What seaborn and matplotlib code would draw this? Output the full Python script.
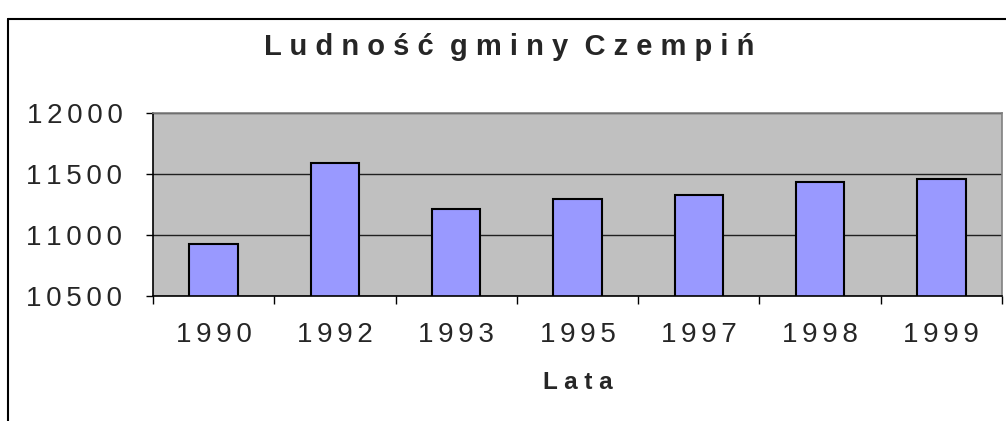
import matplotlib
matplotlib.use("Agg")
import matplotlib.pyplot as plt
import seaborn as sns
import pandas as pd
from matplotlib.lines import Line2D

# data
years = ["1990", "1992", "1993", "1995", "1997", "1998", "1999"]
population = [10923, 11592, 11217, 11298, 11331, 11435, 11457]
y_ticks = [10500, 11000, 11500, 12000]

title = "Ludność gminy Czempiń"
xlabel = "Lata"


def spaced(s, gap=" "):
    # imitate the wide letter spacing of the original
    return (gap + gap).join(gap.join(w) for w in s.split(" "))


df = pd.DataFrame({"rok": years, "ludnosc": population})

sns.set_style("white")
plt.rcParams["font.family"] = ["Liberation Sans", "DejaVu Sans"]

fig = plt.figure(figsize=(10.06, 4.21), dpi=100)
ax = fig.add_axes([153 / 1006, 1 - 296 / 421, (1002 - 153) / 1006, (296 - 113) / 421])

sns.barplot(data=df, x="rok", y="ludnosc", order=years, color="#9999FF",
            saturation=1, width=0.4, edgecolor="black", linewidth=1.5, ax=ax)

ax.set_facecolor("#C0C0C0")
ax.set_ylim(y_ticks[0], y_ticks[-1])
ax.set_xlim(-0.5, len(years) - 0.5)

# thin gap between digits
num_gap = "\u2006"

# y axis
ax.set_yticks(y_ticks)
ax.set_yticklabels([spaced(str(v), num_gap) for v in y_ticks], fontsize=20)
ax.tick_params(axis="y", direction="out", length=5, width=1, color="black", pad=17, left=True)
ax.yaxis.grid(True, color="#202020", linewidth=1)
ax.set_axisbelow(True)

# x axis: ticks between categories, labels in the middle
ax.set_xticks([i - 0.5 for i in range(len(years) + 1)])
ax.set_xticklabels([])
ax.set_xticks(range(len(years)), minor=True)
ax.set_xticklabels([spaced(y, num_gap) for y in years], minor=True, fontsize=20)
ax.tick_params(axis="x", which="major", direction="out", length=6, width=1, color="black", bottom=True)
ax.tick_params(axis="x", which="minor", length=0, pad=19)

ax.set_xlabel(spaced(xlabel), fontsize=17.5, fontweight="bold")
ax.xaxis.set_label_coords(0.5, -0.475)
ax.xaxis.label.set_verticalalignment("center")
ax.set_ylabel("")

for side in ["left", "bottom"]:
    ax.spines[side].set_color("black")
    ax.spines[side].set_linewidth(1.2)
for side in ["top", "right"]:
    ax.spines[side].set_color("#808080")
    ax.spines[side].set_linewidth(1.2)

title_txt = "  ".join(" ".join(w) for w in title.split(" "))
fig.text(0.506, 1 - 47 / 421, title_txt, ha="center", va="center",
         fontsize=21, fontweight="bold")

# chart area frame (cut off at right and bottom)
fx, fy = 8 / 1006, 1 - 19 / 421
fig.add_artist(Line2D([fx, fx], [0, fy], color="black", linewidth=1.5, transform=fig.transFigure))
fig.add_artist(Line2D([fx, 1], [fy, fy], color="black", linewidth=1.5, transform=fig.transFigure))

fig.savefig("out.png", dpi=100)
